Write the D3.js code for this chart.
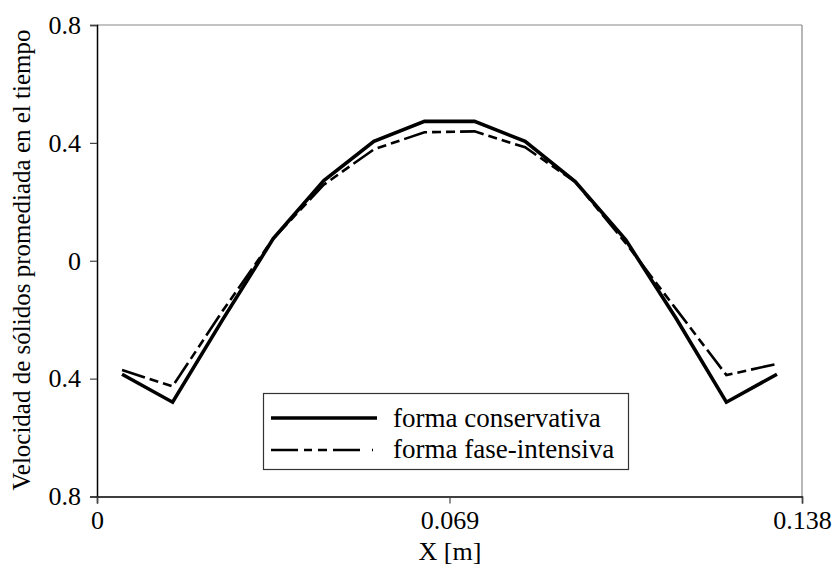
<!DOCTYPE html>
<html><head><meta charset="utf-8">
<script src="https://cdn.jsdelivr.net/npm/d3@7"></script>
<style>body{margin:0;background:#fff}svg{display:block}</style>
</head><body><svg id="c" width="835" height="574"></svg>
<script>
const xPos = [0.0049, 0.0148, 0.0246, 0.0345, 0.0444, 0.0542, 0.0641, 0.0739, 0.0838, 0.0936, 0.1035, 0.1134, 0.1232, 0.1331];
const conservativa = [-0.385, -0.480, -0.200, 0.075, 0.272, 0.405, 0.473, 0.473, 0.405, 0.269, 0.071, -0.197, -0.480, -0.385];
const faseIntensiva = [-0.371, -0.426, -0.170, 0.075, 0.258, 0.378, 0.436, 0.439, 0.385, 0.268, 0.060, -0.165, -0.388, -0.350];
const xTicks = [0, 0.069, 0.138];
const xTickLabels = ["0", "0.069", "0.138"];
const yTicks = [0.8, 0.4, 0, -0.4, -0.8];
const yTickLabels = ["0.8", "0.4", "0", "0.4", "0.8"];
const seriesNames = ["forma conservativa", "forma fase-intensiva"];

const FONT = "'Liberation Serif', 'Times New Roman', serif";
const svg = d3.select("#c");
const L = 97, R = 802, T = 25, B = 496.5;
const x = d3.scaleLinear().domain([0, 0.138]).range([L, R]);
const y = d3.scaleLinear().domain([-0.8, 0.8]).range([B, T]);

// frame top/right
svg.append("line").attr("x1", L).attr("x2", R).attr("y1", T).attr("y2", T).attr("stroke", "#888").attr("stroke-width", 1.2);
svg.append("line").attr("x1", R).attr("x2", R).attr("y1", T).attr("y2", B).attr("stroke", "#888").attr("stroke-width", 1.2);

const yAxis = svg.append("g").attr("transform", `translate(${L},0)`)
  .call(d3.axisLeft(y).tickValues(yTicks).tickSize(7).tickPadding(9).tickFormat((d, i) => yTickLabels[i]));
const xAxis = svg.append("g").attr("transform", `translate(0,${B})`)
  .call(d3.axisBottom(x).tickValues(xTicks).tickSize(7).tickPadding(7).tickFormat((d, i) => xTickLabels[i]));
[yAxis, xAxis].forEach(g => {
  g.attr("font-family", null).attr("font-size", null);
  g.select(".domain").attr("stroke", "#000").attr("stroke-width", 1.5);
  g.selectAll(".tick line").attr("stroke", "#444").attr("stroke-width", 1.2);
  g.selectAll("text").style("font-family", FONT).style("font-size", "26px").attr("fill", "#000");
});

const line = d3.line().x(d => x(d[0])).y(d => y(d[1]));
const dash = "24,5,9,5,9,5";
svg.append("path").datum(xPos.map((v, i) => [v, faseIntensiva[i]]))
  .attr("d", line).attr("fill", "none").attr("stroke", "#000").attr("stroke-width", 2.6).attr("stroke-dasharray", dash);
svg.append("path").datum(xPos.map((v, i) => [v, conservativa[i]]))
  .attr("d", line).attr("fill", "none").attr("stroke", "#000").attr("stroke-width", 3.6).attr("stroke-linejoin", "miter");

// legend
const lg = svg.append("g");
lg.append("rect").attr("x", 263.5).attr("y", 393.5).attr("width", 365).attr("height", 76)
  .attr("fill", "#fff").attr("stroke", "#333").attr("stroke-width", 1.2);
lg.append("line").attr("x1", 271).attr("x2", 377).attr("y1", 418).attr("y2", 418).attr("stroke", "#000").attr("stroke-width", 3.6);
lg.append("line").attr("x1", 271).attr("x2", 379).attr("y1", 450).attr("y2", 450).attr("stroke", "#000").attr("stroke-width", 2.6).attr("stroke-dasharray", "27,6,8,6,9,6,27,12,1");
lg.append("text").attr("x", 393).attr("y", 427).style("font-family", FONT).style("font-size", "27px").text(seriesNames[0]);
lg.append("text").attr("x", 393).attr("y", 458).style("font-family", FONT).style("font-size", "27px").text(seriesNames[1]);

// axis titles
svg.append("text").attr("x", 450).attr("y", 560).attr("text-anchor", "middle").style("font-family", FONT).style("font-size", "26px").text("X [m]");
svg.append("text").attr("transform", "translate(30,260) rotate(-90)").attr("text-anchor", "middle").style("font-family", FONT).style("font-size", "25px")
  .text("Velocidad de sólidos promediada en el tiempo");
</script></body></html>
